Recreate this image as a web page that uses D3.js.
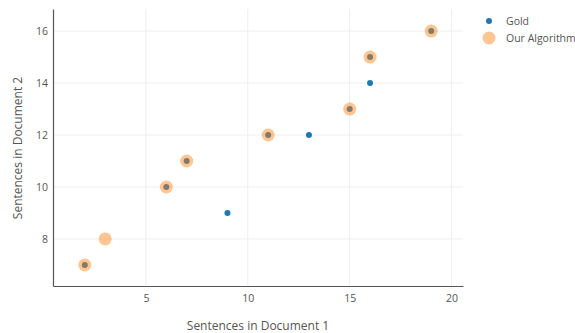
<!DOCTYPE html>
<html><head><meta charset="utf-8">
<script src="https://cdn.jsdelivr.net/npm/d3@7"></script>
<style>body{margin:0;background:#fff;}svg{display:block;font-family:"Open Sans",sans-serif;}</style>
</head><body>
<script>
const goldX = [2, 6, 7, 9, 11, 13, 15, 16, 16, 19];
const goldY = [7, 10, 11, 9, 12, 12, 13, 14, 15, 16];
const algoX = [2, 3, 6, 7, 11, 15, 16, 19];
const algoY = [7, 8, 10, 11, 12, 13, 15, 16];
const xTicks = [5, 10, 15, 20];
const yTicks = [8, 10, 12, 14, 16];
const seriesNames = ["Gold", "Our Algorithm"];

const W = 575, H = 333;
const svg = d3.select("body").append("svg").attr("width", W).attr("height", H);
const x = d3.scaleLinear().domain([0.44, 20.56]).range([53, 463]);
const y = d3.scaleLinear().domain([6.19, 16.85]).range([286, 9]);
const txt = "#555";

const g = svg.append("g");
g.selectAll(".gx").data(xTicks).enter().append("line")
  .attr("x1", d => x(d)).attr("x2", d => x(d)).attr("y1", 9).attr("y2", 286)
  .attr("stroke", "#eee").attr("stroke-width", 1);
g.selectAll(".gy").data(yTicks).enter().append("line")
  .attr("x1", 53).attr("x2", 463).attr("y1", d => y(d)).attr("y2", d => y(d))
  .attr("stroke", "#eee").attr("stroke-width", 1);

const xAxis = d3.axisBottom(x).tickValues(xTicks).tickSize(0).tickPadding(9);
const yAxis = d3.axisLeft(y).tickValues(yTicks).tickSize(0).tickPadding(5);
const gx = svg.append("g").attr("transform", "translate(0,286)").call(xAxis);
const gy = svg.append("g").attr("transform", "translate(53,0)").call(yAxis);
[gx, gy].forEach(a => {
  a.select(".domain").attr("stroke", "#555").attr("stroke-width", 1.2);
  a.selectAll("text").attr("fill", txt).style("font-size", "10.5px").style("font-family", "'Open Sans',sans-serif");
});

const gold = goldX.map((v, i) => [v, goldY[i]]);
const algo = algoX.map((v, i) => [v, algoY[i]]);
svg.append("g").selectAll("circle").data(gold).enter().append("circle")
  .attr("cx", d => x(d[0])).attr("cy", d => y(d[1])).attr("r", 3)
  .attr("fill", "#1f77b4");
svg.append("g").selectAll("circle").data(algo).enter().append("circle")
  .attr("cx", d => x(d[0])).attr("cy", d => y(d[1])).attr("r", 6.5)
  .attr("fill", "#ff7f0e").attr("fill-opacity", 0.45);

svg.append("text").attr("x", 258).attr("y", 330).attr("text-anchor", "middle")
  .attr("fill", txt).style("font-size", "12px").text("Sentences in Document 1");
svg.append("text").attr("transform", "translate(22,148) rotate(-90)").attr("text-anchor", "middle")
  .attr("fill", txt).style("font-size", "12px").text("Sentences in Document 2");

const leg = svg.append("g");
leg.append("circle").attr("cx", 489).attr("cy", 21).attr("r", 3).attr("fill", "#1f77b4");
leg.append("circle").attr("cx", 489).attr("cy", 38).attr("r", 6.5).attr("fill", "#ff7f0e").attr("fill-opacity", 0.45);
leg.selectAll("text.l").data(seriesNames).enter().append("text")
  .attr("x", 506).attr("y", (d, i) => 25 + i * 17)
  .attr("fill", txt).style("font-size", "10.5px").text(d => d);
</script>
</body></html>
